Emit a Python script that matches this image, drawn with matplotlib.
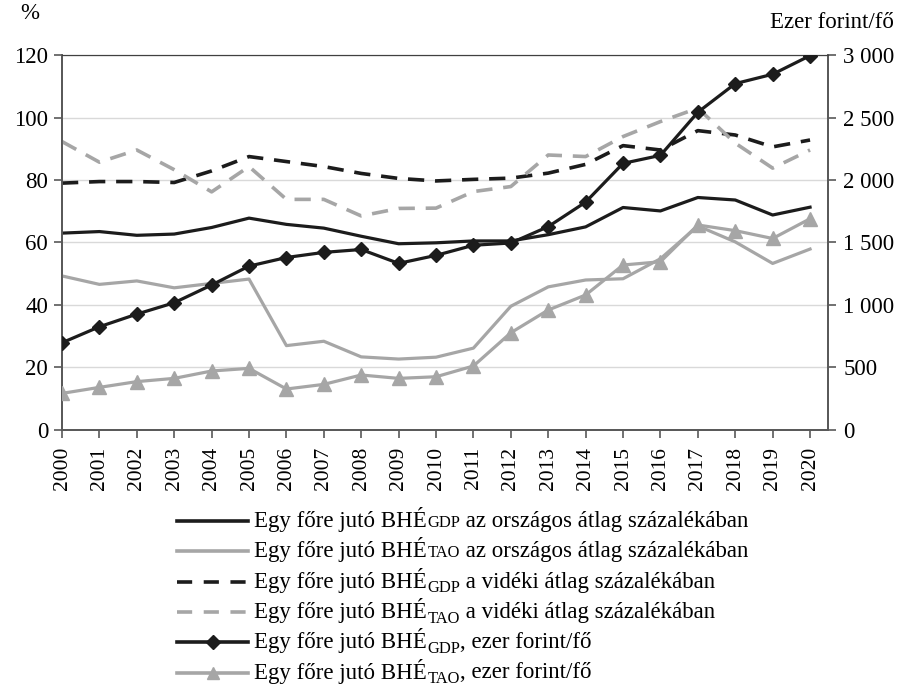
import matplotlib
matplotlib.use("Agg")
import matplotlib.pyplot as plt
from matplotlib.lines import Line2D
from matplotlib.ticker import FuncFormatter

years = list(range(2000, 2021))

# left axis, %
gdp_national_pct = [63.0, 63.5, 62.3, 62.7, 64.8, 67.8, 65.8, 64.6, 62.0, 59.6, 59.9,
                    60.5, 60.5, 62.5, 65.0, 71.2, 70.1, 74.4, 73.6, 68.8, 71.3]
tao_national_pct = [49.3, 46.6, 47.7, 45.5, 46.9, 48.3, 27.0, 28.4, 23.4, 22.7, 23.3,
                    26.2, 39.6, 45.8, 48.0, 48.4, 54.8, 65.3, 60.2, 53.3, 57.9]
gdp_rural_pct = [79.0, 79.5, 79.5, 79.2, 82.9, 87.5, 85.9, 84.3, 82.1, 80.5, 79.7,
                 80.2, 80.6, 82.2, 85.0, 91.0, 89.6, 95.8, 94.4, 90.6, 92.8]
tao_rural_pct = [92.3, 85.7, 89.6, 83.3, 76.2, 84.3, 73.8, 73.8, 68.5, 70.9, 71.0,
                 76.3, 77.9, 88.0, 87.5, 93.9, 98.7, 103.0, 91.8, 83.8, 89.6]

# right axis, ezer forint/fő
gdp_per_capita = [698, 826, 927, 1018, 1160, 1311, 1380, 1421, 1444, 1333, 1397,
                  1478, 1496, 1627, 1823, 2133, 2197, 2542, 2771, 2846, 2995]
tao_per_capita = [293, 341, 387, 413, 472, 493, 328, 365, 440, 413, 426,
                  512, 778, 960, 1080, 1320, 1346, 1640, 1595, 1532, 1690]

BLACK = "#1c1c1c"
GRAY = "#a6a6a6"
AXIS = "#595959"
FS = 16.5

plt.rcParams["font.family"] = ["Liberation Serif", "DejaVu Serif"]
plt.rcParams["font.size"] = FS

W, H = 901, 686
fig = plt.figure(figsize=(W / 100, H / 100), dpi=100)
ax = fig.add_axes([62 / W, 1 - 430 / H, (828 - 62) / W, (430 - 55) / H])
ax2 = ax.twinx()

lw = 2.3
ax.plot(years, gdp_national_pct, color=BLACK, lw=lw, zorder=3)
ax.plot(years, tao_national_pct, color=GRAY, lw=lw, zorder=3)
ax.plot(years, gdp_rural_pct, color=BLACK, lw=2.6, dashes=(4.5, 3), zorder=3)
ax.plot(years, tao_rural_pct, color=GRAY, lw=2.6, dashes=(4.5, 3), zorder=3)
ax2.plot(years, gdp_per_capita, color=BLACK, lw=lw, marker="D", ms=7.5,
         mfc=BLACK, mec=BLACK, zorder=4)
ax2.plot(years, tao_per_capita, color=GRAY, lw=lw, marker="^", ms=9.5,
         mfc=GRAY, mec=GRAY, zorder=4)

ax.set_xlim(2000, 2020.48)
ax.set_ylim(0, 120)
ax2.set_ylim(0, 3000)
ax.set_yticks(range(0, 121, 20))
ax2.set_yticks(range(0, 3001, 500))
ax2.yaxis.set_major_formatter(FuncFormatter(lambda v, _: f"{int(v):,}".replace(",", " ")))
ax.set_xticks(years)
ax.set_xticklabels([str(y) for y in years], rotation=90, fontsize=15.5)

ax.grid(axis="y", color="#d9d9d9", lw=1.0)
ax.set_axisbelow(True)
for a in (ax, ax2):
    for side in ("left", "right", "bottom"):
        a.spines[side].set_color(AXIS)
        a.spines[side].set_linewidth(1.3)
    a.spines["top"].set_color("#404040")
    a.spines["top"].set_linewidth(0.8)
ax.tick_params(axis="y", colors=AXIS, length=6, width=1.2, labelcolor="black",
               labelsize=FS, pad=4)
ax.tick_params(axis="x", colors=AXIS, length=6, width=1.2, labelcolor="black", pad=6)
ax2.tick_params(axis="y", colors=AXIS, length=6, width=1.2, labelcolor="black",
                labelsize=FS, pad=5)

fig.text(20 / W, 1 - 19 / H, "%", fontsize=FS, ha="left", va="baseline")
fig.text(894 / W, 1 - 28 / H, "Ezer forint/fő", fontsize=FS, ha="right", va="baseline")

# legend, built by hand so the subscripts can sit where they do in the original
rows = [
    ("GDP", " az országos átlag százalékában", False, BLACK, "-", None),
    ("TAO", " az országos átlag százalékában", False, GRAY, "-", None),
    ("GDP", " a vidéki átlag százalékában", True, BLACK, "--", None),
    ("TAO", " a vidéki átlag százalékában", True, GRAY, "--", None),
    ("GDP", ", ezer forint/fő", True, BLACK, "-", "D"),
    ("TAO", ", ezer forint/fő", True, GRAY, "-", "^"),
]
x0, x1, xt = 177, 248, 254
for i, (sub, rest, lowered, color, ls, marker) in enumerate(rows):
    yc = 521 + i * 30.3
    line = Line2D([x0 / W, (x0 + x1) / 2 / W, x1 / W], [1 - yc / H] * 3,
                  transform=fig.transFigure, color=color, lw=2.6,
                  ls=ls, marker=marker, markevery=[1],
                  ms=7 if marker == "D" else 8, mfc=color, mec=color)
    if ls == "--":
        line.set_dashes((4.2, 3.2))
    fig.add_artist(line)
    yb = 1 - (yc + 6) / H
    t1 = fig.text(xt / W, yb, "Egy főre jutó BHÉ", fontsize=FS, va="baseline")
    t2 = ax.annotate(sub, xy=(1, yb), xycoords=(t1, "figure fraction"),
                     xytext=(0.5, -3.5 if lowered else 0), textcoords="offset points",
                     fontsize=FS * 0.72, va="baseline", ha="left", annotation_clip=False)
    ax.annotate(rest, xy=(1, yb), xycoords=(t2, "figure fraction"),
                fontsize=FS, va="baseline", ha="left", annotation_clip=False)

fig.savefig("out.png", dpi=100)
